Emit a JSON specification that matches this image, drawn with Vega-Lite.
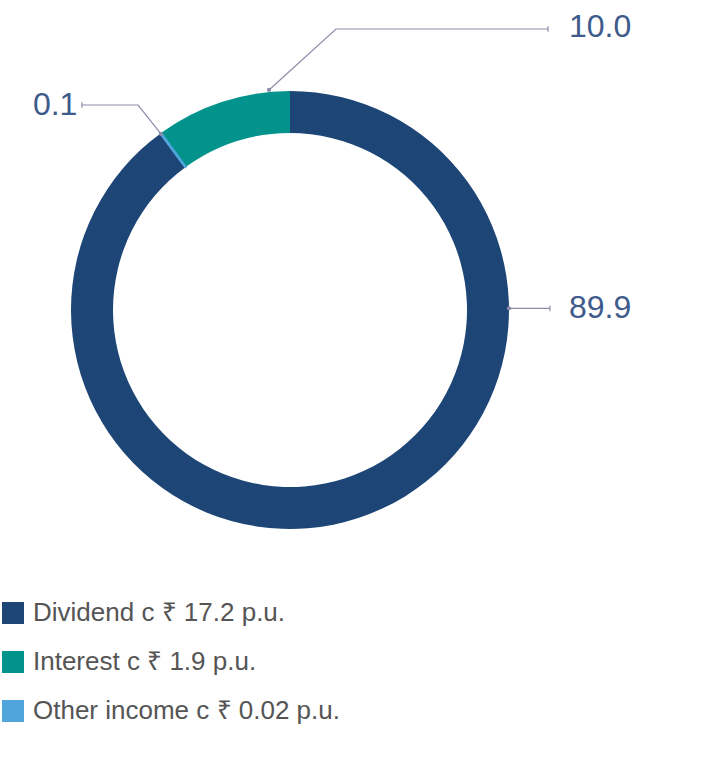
{
  "$schema": "https://vega.github.io/schema/vega-lite/v6.json",
  "width": 578,
  "height": 620,
  "padding": 0,
  "autosize": {"type": "pad"},
  "background": "white",
  "config": {
    "view": {"stroke": null},
    "font": "Liberation Sans",
    "legend": {
      "orient": "none",
      "legendX": -1,
      "legendY": 600,
      "symbolType": "square",
      "symbolSize": 484,
      "symbolStrokeWidth": 0,
      "symbolOpacity": 1,
      "labelFontSize": 26,
      "labelFont": "Liberation Sans",
      "labelColor": "#555555",
      "rowPadding": 23,
      "labelOffset": 7,
      "padding": 0,
      "labelLimit": 0
    }
  },
  "datasets": {
    "shares": [
      {"label": "Dividend c ₹ 17.2 p.u.", "value": 89.9, "rank": 1},
      {"label": "Other income c ₹ 0.02 p.u.", "value": 0.1, "rank": 2},
      {"label": "Interest c ₹ 1.9 p.u.", "value": 10.0, "rank": 3}
    ],
    "leaders": [
      {"id": "div", "seq": 1, "x": 1.0, "y": 0.007},
      {"id": "div", "seq": 2, "x": 1.187, "y": 0.007},
      {"id": "int", "seq": 1, "x": -0.0959, "y": 1.0046},
      {"id": "int", "seq": 2, "x": 0.21, "y": 1.283},
      {"id": "int", "seq": 3, "x": 1.178, "y": 1.283},
      {"id": "oth", "seq": 1, "x": -0.589, "y": 0.804},
      {"id": "oth", "seq": 2, "x": -0.694, "y": 0.936},
      {"id": "oth", "seq": 3, "x": -0.95, "y": 0.936}
    ],
    "labels": [
      {"text": "89.9", "x": 1.274, "y": 0.007},
      {"text": "10.0", "x": 1.274, "y": 1.292},
      {"text": "0.1", "x": -1.174, "y": 0.936}
    ]
  },
  "layer": [
    {
      "data": {"name": "shares"},
      "transform": [
        {"stack": "value", "groupby": [], "sort": [{"field": "rank", "order": "ascending"}], "as": ["v0", "v1"]}
      ],
      "mark": {"type": "arc", "innerRadius": 177, "outerRadius": 219},
      "encoding": {
        "theta": {"field": "v0", "type": "quantitative", "scale": {"domain": [0, 100]}},
        "theta2": {"field": "v1"},
        "color": {
          "field": "label",
          "type": "nominal",
          "title": null,
          "scale": {
            "domain": ["Dividend c ₹ 17.2 p.u.", "Interest c ₹ 1.9 p.u.", "Other income c ₹ 0.02 p.u."],
            "range": ["#1d4677", "#02938d", "#4fa5dc"]
          }
        }
      }
    },
    {
      "data": {"name": "shares"},
      "transform": [
        {"stack": "value", "groupby": [], "sort": [{"field": "rank", "order": "ascending"}], "as": ["v0", "v1"]},
        {"filter": "datum.rank == 2"}
      ],
      "mark": {"type": "arc", "innerRadius": 177, "outerRadius": 219, "fill": "#4fa5dc", "stroke": "#4fa5dc", "strokeWidth": 1.6},
      "encoding": {
        "theta": {"field": "v0", "type": "quantitative"},
        "theta2": {"field": "v1"}
      }
    },
    {
      "data": {"name": "leaders"},
      "mark": {"type": "line", "color": "#8c8ca8", "strokeWidth": 1.2},
      "encoding": {
        "x": {"field": "x", "type": "quantitative", "scale": {"domain": [-1.3196, 1.3196], "nice": false, "zero": false}, "axis": null},
        "y": {"field": "y", "type": "quantitative", "scale": {"domain": [-1.4155, 1.4155], "nice": false, "zero": false}, "axis": null},
        "detail": {"field": "id"},
        "order": {"field": "seq", "type": "quantitative"}
      }
    },
    {
      "data": {"name": "leaders"},
      "transform": [{"filter": "datum.seq == 1"}],
      "mark": {"type": "point", "filled": true, "color": "#8c8ca8", "size": 18, "opacity": 1},
      "encoding": {
        "x": {"field": "x", "type": "quantitative"},
        "y": {"field": "y", "type": "quantitative"}
      }
    },
    {
      "data": {"name": "leaders"},
      "transform": [
        {"joinaggregate": [{"op": "max", "field": "seq", "as": "last"}], "groupby": ["id"]},
        {"filter": "datum.seq == datum.last"}
      ],
      "mark": {"type": "point", "shape": "M0,-1L0,1", "size": 30, "strokeWidth": 1.2, "color": "#8c8ca8", "opacity": 1},
      "encoding": {
        "x": {"field": "x", "type": "quantitative"},
        "y": {"field": "y", "type": "quantitative"}
      }
    },
    {
      "data": {"name": "labels"},
      "mark": {"type": "text", "align": "left", "baseline": "middle", "fontSize": 32, "color": "#3e5b8c", "font": "Liberation Sans"},
      "encoding": {
        "x": {"field": "x", "type": "quantitative"},
        "y": {"field": "y", "type": "quantitative"},
        "text": {"field": "text"}
      }
    }
  ]
}
